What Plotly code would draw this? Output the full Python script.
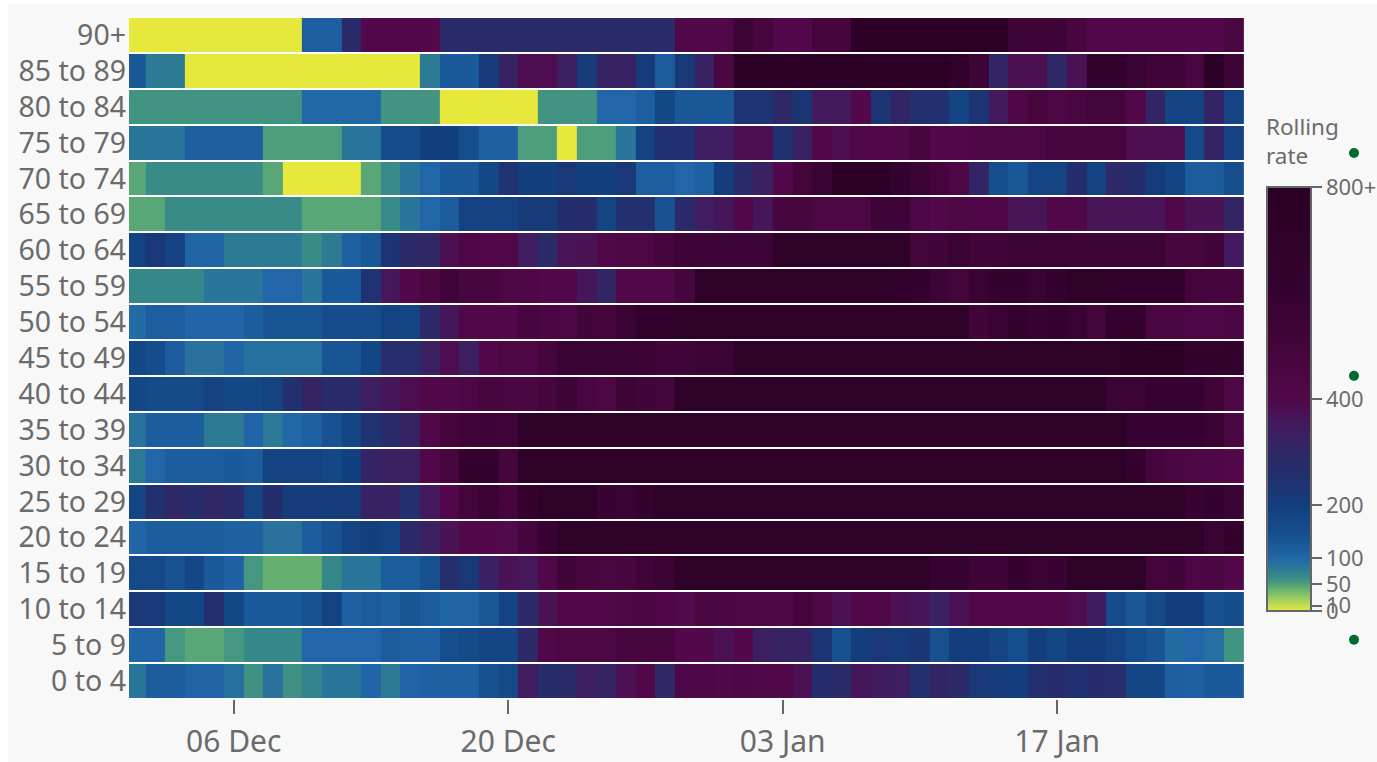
import pandas as pd
import plotly.graph_objects as go

age_groups = ["90+", "85 to 89", "80 to 84", "75 to 79", "70 to 74", "65 to 69", "60 to 64",
              "55 to 59", "50 to 54", "45 to 49", "40 to 44", "35 to 39", "30 to 34", "25 to 29",
              "20 to 24", "15 to 19", "10 to 14", "5 to 9", "0 to 4"]
dates = pd.date_range("2020-12-01", "2021-01-26").strftime("%Y-%m-%d").tolist()
tick_dates = ["2020-12-06", "2020-12-20", "2021-01-03", "2021-01-17"]
tick_labels = ["06 Dec", "20 Dec", "03 Jan", "17 Jan"]
bar_ticks = [0, 10, 50, 100, 200, 400, 800]
bar_labels = ["0", "10", "50", "100", "200", "400", "800+"]

r90 = [0,0,0,0,0,0,0,0,0,115,115,280,400,400,400,400,280,280,280,280,280,280,280,280,280,280,280,280,410,410,410,540,470,400,400,480,480,750,750,750,750,750,750,750,750,530,530,530,470,400,400,400,400,400,400,400,450]
r85 = [130,80,80,0,0,0,0,0,0,0,0,0,0,0,0,80,125,125,215,320,385,385,335,215,320,320,215,120,220,320,450,750,750,750,750,750,750,750,750,750,750,750,680,540,310,380,380,300,375,650,650,570,520,520,460,750,540]
r80 = [58,58,58,58,58,58,58,58,58,98,98,98,98,58,58,58,0,0,0,0,0,58,58,58,100,100,115,170,130,130,130,235,235,300,235,350,350,400,235,310,250,250,185,235,350,420,470,430,460,500,500,410,310,185,185,310,180]
r75 = [85,85,85,115,115,115,115,52,52,52,52,85,85,155,155,195,195,150,110,110,52,52,0,52,52,85,190,245,245,340,340,385,385,245,325,405,385,410,410,410,470,400,400,430,430,430,430,470,470,470,470,385,385,385,160,310,190]
r70 = [47,65,65,65,65,65,65,47,0,0,0,0,47,65,85,100,125,125,170,240,195,195,225,195,195,225,115,115,100,110,205,280,330,400,500,570,750,750,750,620,560,490,430,310,150,130,180,180,260,185,295,260,210,185,120,120,150]
r65 = [47,47,65,65,65,65,65,65,65,47,47,47,47,65,85,100,120,190,190,190,215,215,260,260,180,250,250,140,285,340,360,400,360,470,470,440,440,440,530,530,425,400,440,420,420,365,365,410,410,365,365,365,365,410,370,370,310]
r60 = [185,225,190,105,105,80,80,80,80,65,80,110,130,235,290,300,380,420,400,405,340,285,365,370,410,435,435,480,530,530,530,530,530,720,720,720,720,720,720,720,500,510,570,510,510,550,550,550,540,540,540,540,540,470,470,510,350]
r55 = [68,68,68,68,85,85,85,100,100,85,125,125,240,355,400,450,520,470,470,430,420,400,400,360,310,410,410,410,480,720,720,720,720,720,720,720,720,720,720,680,650,530,500,560,630,630,570,630,720,720,680,680,680,680,490,480,480]
r50 = [95,115,115,102,102,102,118,135,135,135,155,155,155,185,175,290,360,410,410,400,465,445,440,510,490,560,680,680,720,720,720,720,720,720,720,720,720,720,720,720,720,720,720,510,560,610,580,610,570,500,640,600,460,460,425,425,445]
r45 = [170,155,120,88,88,105,90,90,90,90,135,135,175,265,265,330,385,335,400,430,420,480,570,570,570,570,560,520,520,550,550,720,720,720,720,720,720,720,720,720,720,720,720,720,720,720,720,720,720,720,720,750,750,750,620,620,620]
r40 = [170,160,160,160,190,170,170,190,250,315,280,280,335,360,385,405,410,440,470,460,450,480,540,460,430,540,510,500,720,720,720,720,720,720,720,720,720,720,720,720,720,720,720,720,720,720,720,720,720,720,550,550,590,590,590,520,440]
r35 = [88,118,118,118,80,80,102,82,98,110,140,175,240,280,315,405,490,520,530,520,720,720,720,720,720,720,720,720,720,720,720,720,720,720,720,720,720,720,720,720,720,720,720,720,720,720,720,720,720,720,720,590,590,590,590,560,460]
r30 = [82,100,118,118,118,125,118,188,188,188,170,195,310,330,330,405,470,620,620,480,720,720,720,720,720,720,720,720,720,720,720,720,720,720,720,720,720,720,720,720,720,720,720,720,720,720,720,720,720,720,720,600,480,460,430,420,400]
r25 = [180,250,300,270,305,280,180,260,210,210,210,210,320,320,255,350,400,500,560,480,600,720,720,720,580,570,610,720,720,720,720,720,720,720,720,720,720,720,720,720,720,720,720,720,720,720,720,720,720,720,720,720,720,720,580,620,570]
r20 = [102,118,118,118,118,108,108,88,88,118,140,180,195,185,290,330,370,400,400,395,480,580,720,720,720,720,720,720,720,720,720,720,720,720,720,720,720,720,720,720,720,720,720,720,720,720,720,720,720,720,720,720,720,720,720,570,650]
r15 = [165,165,140,170,125,108,55,42,42,42,68,85,85,118,118,145,265,225,325,370,355,405,510,470,460,470,520,560,720,720,720,720,720,720,720,720,720,720,720,720,720,590,590,530,530,600,560,580,720,720,720,720,490,510,440,450,400]
r10 = [225,225,170,170,250,170,125,125,125,140,190,108,120,110,135,120,105,105,130,185,290,370,410,410,410,440,450,420,395,450,450,440,440,440,490,440,375,410,410,375,360,325,375,405,405,405,405,405,385,345,155,130,165,205,205,145,155]
r5 = [102,102,55,47,47,56,68,68,68,100,100,100,100,120,110,112,150,160,175,175,295,405,440,440,440,470,470,470,400,400,375,400,335,320,320,235,145,205,225,210,230,145,205,205,180,150,205,175,205,205,180,150,135,95,100,92,58]
r0 = [85,118,118,103,103,90,60,88,60,70,85,85,102,80,102,108,108,108,145,160,340,270,285,335,315,375,405,300,425,425,410,425,405,405,375,260,285,360,345,335,250,310,290,225,210,205,250,270,245,270,265,175,175,115,110,125,125]

rows = [r90, r85, r80, r75, r70, r65, r60, r55, r50, r45, r40, r35, r30, r25, r20, r15, r10, r5, r0]
for name, r in zip(age_groups, rows):
    assert len(r) == len(dates), (name, len(r))

scale_points = [(0, "#e6e83c"), (15, "#b5d85a"), (40, "#6ab46e"), (55, "#45987f"), (70, "#33848c"),
                (100, "#2066a8"), (150, "#164d8c"), (200, "#123e7e"), (250, "#22306f"), (300, "#2f2867"),
                (350, "#431a5e"), (400, "#52084a"), (500, "#43053a"), (600, "#350230"), (800, "#2a0024")]
colorscale = [[v / 800, c] for v, c in scale_points]

# page: the figure starts at (8, 4) and runs to the right and bottom edges of the window
PW, PH = 1369, 758
L, R, T, B = 121, 133, 13, 62.7
plot_w, plot_h = PW - L - R, PH - T - B
GREY = "#6b6b6b"

fig = go.Figure(go.Heatmap(
    x=dates, y=age_groups, z=rows, zmin=0, zmax=800, colorscale=colorscale, ygap=2, xgap=0,
    hoverongaps=False,
    colorbar=dict(
        x=(1267 - 129) / plot_w, xanchor="left", xpad=0, y=(699.3 - 187) / plot_h, yanchor="top", ypad=0,
        thickness=44, thicknessmode="pixels", len=424, lenmode="pixels",
        outlinewidth=2, outlinecolor="#666666", borderwidth=0,
        tickmode="array", tickvals=bar_ticks, ticktext=bar_labels, ticks="outside", ticklen=10,
        tickwidth=2, tickcolor="#666666", tickfont=dict(size=22, color=GREY),
    ),
))

fig.update_layout(
    width=PW, height=PH, margin=dict(l=L, r=R, t=T, b=B, pad=0, autoexpand=False),
    paper_bgcolor="#f8f8f8", plot_bgcolor="#ffffff",
    font=dict(family="Noto Sans", color=GREY),
    xaxis=dict(type="date", range=["2020-11-30 15:50", "2021-01-26 12:43"], tickmode="array",
               tickvals=tick_dates, ticktext=tick_labels, ticks="outside", ticklen=14, tickwidth=2,
               tickcolor="#666666", tickfont=dict(size=30, color=GREY), ticklabelstandoff=2,
               showgrid=False, zeroline=False, showline=False),
    yaxis=dict(autorange="reversed", type="category", ticks="", ticklabelstandoff=2,
               tickfont=dict(size=28.5, color=GREY), showgrid=False, zeroline=False, showline=False),
    annotations=[dict(text="Rolling<br>rate", xref="paper", yref="paper", showarrow=False, align="left",
                      xanchor="left", yanchor="middle", x=(1264 - 129) / plot_w, y=(699.3 - 141) / plot_h,
                      font=dict(size=22.5, color=GREY))],
    shapes=[dict(type="circle", xref="paper", yref="paper", fillcolor="#006b2d", line_width=0,
                 x0=(cx - 5 - 129) / plot_w, x1=(cx + 5 - 129) / plot_w,
                 y0=(699.3 - cy - 5) / plot_h, y1=(699.3 - cy + 5) / plot_h)
            for cx, cy in [(1354, 153), (1354, 376), (1354, 640)]],
)

fig.write_html("out.html", post_script="document.body.style.margin='4px 0 0 8px';document.documentElement.style.overflow='hidden';")
